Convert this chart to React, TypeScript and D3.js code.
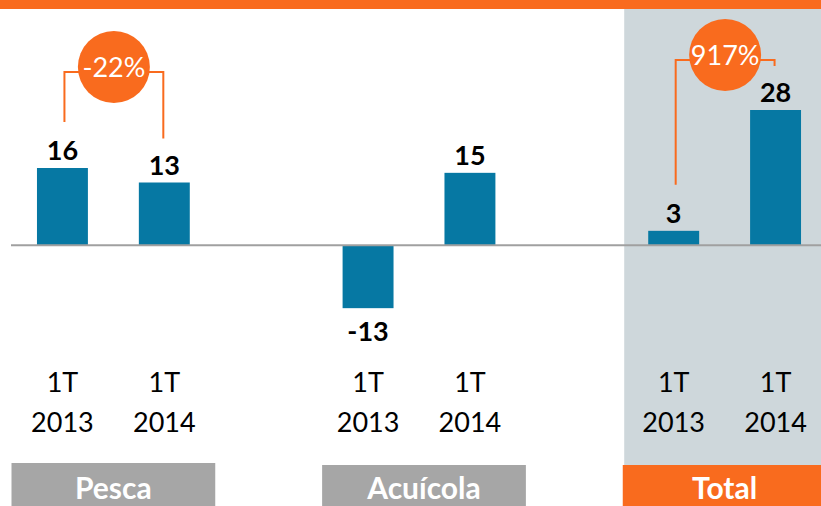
import React from 'react';
import * as d3 from 'd3';

const groups = ['Pesca', 'Acuícola', 'Total'];
const periods = [['1T', '2013'], ['1T', '2014']];
const pescaValues = [16, 13];
const acuicolaValues = [-13, 15];
const totalValues = [3, 28];
const groupChanges = ['-22%', '', '917%'];

const W = 821;
const H = 506;
const ORANGE = '#F96B1E';
const BLUE = '#0678A3';
const FONT = 'Lato, "Open Sans", sans-serif';

const App = () => {
  const series = [pescaValues, acuicolaValues, totalValues];
  const bars = series.flatMap((vals, g) =>
    vals.map((v, i) => ({ group: g, period: i, value: v, slot: g * 3 + i }))
  );

  const x = d3.scaleBand<number>().domain(d3.range(8)).range([11.5, 826.5]).paddingInner(0.5).paddingOuter(0.25);
  const y = d3.scaleLinear().domain([-20, 40]).range([342, 52]);
  const bw = x.bandwidth();
  const step = x.step();
  const y0 = y(0);

  const cx = (slot: number) => (x(slot) as number) + bw / 2;

  return (
    <svg width={W} height={H} style={{ position: 'absolute', left: 0, top: 0, fontFamily: FONT }}>
      <rect x={0} y={0} width={W} height={9} fill={ORANGE} />
      {/* highlighted total panel */}
      <rect x={(x(6) as number) - 24} y={9} width={W} height={456} fill="#CED7DB" />

      {bars.map((d, k) => (
        <rect
          key={k}
          x={x(d.slot)}
          y={Math.min(y(d.value), y0)}
          width={bw}
          height={Math.abs(y(d.value) - y0)}
          fill={BLUE}
        />
      ))}
      <line x1={11} x2={W} y1={y0} y2={y0} stroke="#A0A0A0" strokeWidth={2} />

      {bars.map((d, k) => (
        <text
          key={k}
          x={cx(d.slot)}
          y={d.value >= 0 ? y(d.value) - 8 : y(d.value) + 33}
          textAnchor="middle"
          fontSize={27}
          fontWeight="bold"
          fill="#000"
        >
          {d.value}
        </text>
      ))}

      {bars.map((d, k) => (
        <g key={k}>
          <text x={cx(d.slot)} y={392} textAnchor="middle" fontSize={27} fill="#000">
            {periods[d.period][0]}
          </text>
          <text x={cx(d.slot)} y={432} textAnchor="middle" fontSize={27} fill="#000">
            {periods[d.period][1]}
          </text>
        </g>
      ))}

      {groups.map((g, i) => {
        const left = (x(i * 3) as number) - step * 0.25 + (i === 1 ? 5 : 0);
        const right = (x(i * 3 + 1) as number) + bw + step * 0.25 + (i === 1 ? 5 : 0);
        const isTotal = i === 2;
        const top = i === 0 ? 463 : 465;
        return (
          <g key={g}>
            <rect x={left} y={top} width={right - left} height={H - top} fill={isTotal ? ORANGE : '#A6A6A6'} />
            <text x={(left + right) / 2} y={499} textAnchor="middle" fontSize={30} fontWeight="bold" fill="#fff">
              {g}
            </text>
          </g>
        );
      })}

      {groupChanges.map((c, i) => {
        if (!c) return null;
        const vals = series[i];
        const a = cx(i * 3) + 2;
        const b = cx(i * 3 + 1) - 1;
        const topY = Math.min(y(vals[0]), y(vals[1])) - 96;
        const hy = Math.max(60, topY);
        const cy = hy - 5;
        return (
          <g key={i}>
            <path
              d={`M${a},${y(vals[0]) - 46}V${hy}H${b}V${y(vals[1]) - 44}`}
              fill="none"
              stroke={ORANGE}
              strokeWidth={2}
            />
            <circle cx={(a + b) / 2} cy={cy} r={36} fill={ORANGE} />
            <text x={(a + b) / 2} y={cy + 10} textAnchor="middle" fontSize={27} fill="#fff">
              {c}
            </text>
          </g>
        );
      })}
    </svg>
  );
};

export default App;
